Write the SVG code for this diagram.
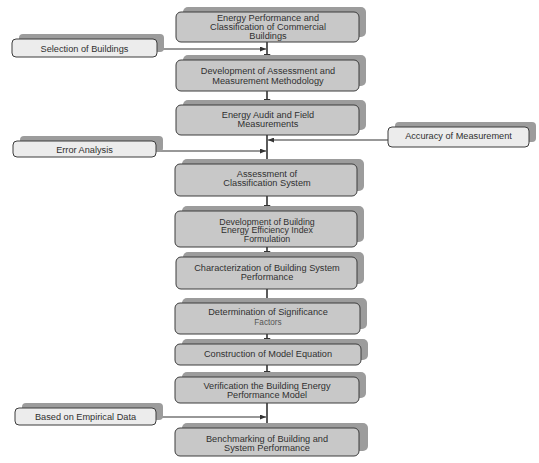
<svg xmlns="http://www.w3.org/2000/svg" width="539" height="463" viewBox="0 0 539 463">
<defs>
<style>
.sh{fill:#9c9c9c;stroke:none}
.mb{fill:#c8c8c8;stroke:#3c3c3c;stroke-width:1}
.sb{fill:#ececec;stroke:#3c3c3c;stroke-width:1}
text{font-family:"Liberation Sans",Arial,sans-serif;font-size:9.2px;fill:#303030;text-anchor:middle}
.t5{font-size:8.8px}
.sm{font-size:8.2px;fill:#555}
.ln{stroke:#333;stroke-width:1.6;fill:none}
.hl{stroke:#333;stroke-width:1.2;fill:none}
</style>
<marker id="ad" markerWidth="7" markerHeight="7" refX="6" refY="3.5" orient="auto" markerUnits="userSpaceOnUse" viewBox="0 0 7 7">
<path d="M0,0 L7,3.5 L0,7 Z" fill="#333"/>
</marker>
<marker id="ah" markerWidth="6" markerHeight="5" refX="6" refY="2.5" orient="auto" markerUnits="userSpaceOnUse" viewBox="0 0 6 5">
<path d="M0,0 L6,2.5 L0,5 Z" fill="#333"/>
</marker>
</defs>
<rect width="539" height="463" fill="#fff"/>
<g id="connectors">
<line class="ln" x1="267" y1="42" x2="267" y2="60" marker-end="url(#ad)"/>
<line class="ln" x1="267" y1="91" x2="267" y2="105" marker-end="url(#ad)"/>
<line class="ln" x1="267" y1="135" x2="267" y2="164"/>
<line class="ln" x1="267" y1="196" x2="267" y2="211" marker-end="url(#ad)"/>
<line class="ln" x1="267" y1="247" x2="267" y2="257" marker-end="url(#ad)"/>
<line class="ln" x1="267" y1="289" x2="267" y2="303"/>
<line class="ln" x1="267" y1="334" x2="267" y2="344" marker-end="url(#ad)"/>
<line class="ln" x1="267" y1="365" x2="267" y2="377" marker-end="url(#ad)"/>
<line class="ln" x1="267" y1="403" x2="267" y2="428"/>
<line class="hl" x1="157" y1="49" x2="266" y2="49" marker-end="url(#ah)"/>
<line class="hl" x1="156" y1="151" x2="266" y2="151" marker-end="url(#ah)"/>
<line class="hl" x1="388" y1="140" x2="268" y2="140" marker-end="url(#ah)"/>
<line class="hl" x1="156" y1="417" x2="266" y2="417" marker-end="url(#ah)"/>
</g>
<g id="n1"><rect class="sh" x="183" y="7" width="183" height="30" rx="5"/><rect class="mb" x="176" y="12" width="183" height="30" rx="5"/>
<text x="268" y="20.5">Energy Performance and</text><text x="268" y="29.8">Classification of Commercial</text><text x="268" y="39">Buildings</text></g>
<g id="n2"><rect class="sh" x="183" y="55" width="183" height="31" rx="5"/><rect class="mb" x="176" y="60" width="183" height="31" rx="5"/>
<text x="268" y="74.2">Development of Assessment and</text><text x="268" y="83.7">Measurement Methodology</text></g>
<g id="n3"><rect class="sh" x="183" y="100" width="183" height="30" rx="5"/><rect class="mb" x="176" y="105" width="183" height="30" rx="5"/>
<text x="268" y="118.2">Energy Audit and Field</text><text x="268" y="127.2">Measurements</text></g>
<g id="n4"><rect class="sh" x="182" y="159" width="182" height="32" rx="5"/><rect class="mb" x="175" y="164" width="182" height="32" rx="5"/>
<text x="267" y="176.5">Assessment of</text><text x="267" y="185.5">Classification System</text></g>
<g id="n5"><rect class="sh" x="182" y="206" width="182" height="36" rx="5"/><rect class="mb" x="175" y="211" width="182" height="36" rx="5"/>
<text class="t5" x="267" y="224.5">Development of Building</text><text class="t5" x="267" y="233">Energy Efficiency Index</text><text class="t5" x="267" y="241.5">Formulation</text></g>
<g id="n6"><rect class="sh" x="183" y="252" width="181" height="32" rx="5"/><rect class="mb" x="176" y="257" width="181" height="32" rx="5"/>
<text x="267" y="270.5">Characterization of Building System</text><text x="267" y="279.5">Performance</text></g>
<g id="n7"><rect class="sh" x="182" y="298" width="185" height="31" rx="5"/><rect class="mb" x="175" y="303" width="185" height="31" rx="5"/>
<text x="268" y="315">Determination of Significance</text><text class="sm" x="268" y="324.5">Factors</text></g>
<g id="n8"><rect class="sh" x="182" y="339" width="186" height="21" rx="5"/><rect class="mb" x="175" y="344" width="186" height="21" rx="5"/>
<text x="268" y="356.5">Construction of Model Equation</text></g>
<g id="n9"><rect class="sh" x="182" y="372" width="184" height="26" rx="5"/><rect class="mb" x="175" y="377" width="184" height="26" rx="5"/>
<text x="267" y="389">Verification the Building Energy</text><text x="267" y="398">Performance Model</text></g>
<g id="n10"><rect class="sh" x="182" y="423" width="186" height="28" rx="5"/><rect class="mb" x="175" y="428" width="184" height="28" rx="5"/>
<text x="267" y="441.5">Benchmarking of Building and</text><text x="267" y="450.5">System Performance</text></g>
<g id="s1"><rect class="sh" x="19" y="34" width="145" height="18" rx="4"/><rect class="sb" x="12" y="39" width="145" height="18" rx="4"/>
<text x="84.5" y="51.5">Selection of Buildings</text></g>
<g id="s2"><rect class="sh" x="20" y="136" width="143" height="16" rx="4"/><rect class="sb" x="13" y="141" width="143" height="16" rx="4"/>
<text x="84.5" y="152.5">Error Analysis</text></g>
<g id="s3"><rect class="sh" x="395" y="122" width="141" height="20" rx="4"/><rect class="sb" x="388" y="127" width="141" height="20" rx="4"/>
<text x="458.5" y="138.5">Accuracy of Measurement</text></g>
<g id="s4"><rect class="sh" x="22" y="403" width="141" height="17" rx="4"/><rect class="sb" x="15" y="408" width="141" height="17" rx="4"/>
<text x="85.5" y="419.5">Based on Empirical Data</text></g>
</svg>
